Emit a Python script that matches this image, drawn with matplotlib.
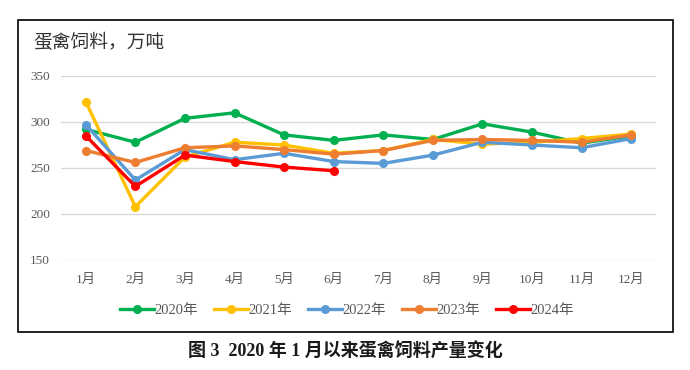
import matplotlib.pyplot as plt
from matplotlib.patches import Rectangle
from matplotlib.lines import Line2D
import numpy as np

# 数据
months = ['1月', '2月', '3月', '4月', '5月', '6月', '7月', '8月', '9月', '10月', '11月', '12月']
years = ['2020年', '2021年', '2022年', '2023年', '2024年']
y2020 = [292, 278, 304, 310, 286, 280, 286, 281, 298, 289, 277, 285]
y2021 = [322, 208, 262, 278, 275, 266, 269, 281, 276, 278, 282, 287]
y2022 = [297, 237, 270, 259, 266, 257, 255, 264, 278, 275, 272, 282]
y2023 = [269, 256, 272, 274, 270, 265, 269, 280, 281, 280, 278, 286]
y2024 = [285, 230, 264, 257, 251, 247]
colors = ['#00B050', '#FFC000', '#5B9BD5', '#ED7D31', '#FF0000']

fonts = ['Liberation Serif', 'Noto Sans CJK SC']
plt.rcParams['font.family'] = fonts

fig = plt.figure(figsize=(6.9, 3.7), dpi=100)
ax = fig.add_axes([61 / 690, 1 - 260 / 370, 595 / 690, 184 / 370])

x = np.arange(1, 13)
series = [y2020, y2021, y2022, y2023, y2024]
for vals, c, lab in zip(series, colors, years):
    ax.plot(x[:len(vals)], vals, color=c, lw=2.4, marker='o', ms=5.5, label=lab)

ax.set_xlim(0.5, 12.5)
ax.set_ylim(150, 350)
ax.set_yticks([150, 200, 250, 300, 350])
ax.set_xticks(x)
ax.set_xticklabels(months)
ax.grid(axis='y', color='#d9d9d9', lw=1)
ax.set_axisbelow(True)
for s in ax.spines.values():
    s.set_visible(False)
ax.tick_params(length=0, labelsize=9.5, colors='#595959', pad=8)
ax.tick_params(axis='x', pad=10)

handles = [Line2D([], [], color=c, lw=2.4, marker='o', ms=5.5) for c in colors]
fig.legend(handles, years, loc='center', bbox_to_anchor=(0.503, 1 - 310 / 370), ncol=5,
           frameon=False, fontsize=10.5, handlelength=2.3, handletextpad=0.05, columnspacing=1.1,
           labelcolor='#595959')

fig.text(33 / 690, 1 - 43 / 370, '蛋禽饲料，万吨', fontsize=13.5, va='center', ha='left',
         color='#333333')

# 外框
fig.patches.append(Rectangle((17.5 / 690, 1 - 331.5 / 370), 655 / 690, 312 / 370,
                             transform=fig.transFigure, fill=False, ec='black', lw=1.2))

fig.text(0.5, 1 - 352 / 370, '图 3  2020 年 1 月以来蛋禽饲料产量变化', fontsize=13,
         ha='center', va='center', fontweight='bold', color='#1a1a1a')

plt.savefig('out.png', dpi=100)
